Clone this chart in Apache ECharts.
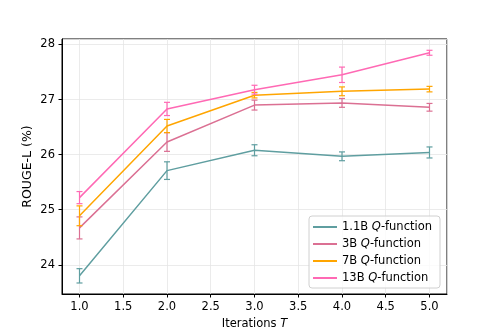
<!DOCTYPE html>
<html>
<head>
<meta charset="UTF-8">
<script src="https://cdn.jsdelivr.net/npm/echarts@6/dist/echarts.min.js"></script>
<style>
  html, body { margin: 0; padding: 0; background: #fff; }
  #chart { width: 496px; height: 331px; }
</style>
</head>
<body>
<div id="chart"></div>
<script>
var iterations = [1, 2, 3, 4, 5];
var modelNames = ['1.1B', '3B', '7B', '13B'];
var colors = ['#5F9EA0', '#DB7093', '#FFA500', '#FF69B4'];

var rouge11b = [23.80, 25.71, 26.08, 25.97, 26.04];
var err11b   = [0.13, 0.16, 0.10, 0.08, 0.10];
var rouge3b  = [24.67, 26.23, 26.90, 26.94, 26.86];
var err3b    = [0.20, 0.17, 0.09, 0.08, 0.07];
var rouge7b  = [24.89, 26.52, 27.08, 27.15, 27.19];
var err7b    = [0.18, 0.12, 0.05, 0.08, 0.05];
var rouge13b = [25.22, 26.83, 27.18, 27.45, 27.85];
var err13b   = [0.11, 0.12, 0.08, 0.14, 0.045];

var allValues = [rouge11b, rouge3b, rouge7b, rouge13b];
var allErrors = [err11b, err3b, err7b, err13b];

var chart = echarts.init(document.getElementById('chart'));
var font = 'DejaVu Sans';

function errorBars(api) {
    var x = api.value(0), y = api.value(1), e = api.value(2);
    var top = api.coord([x, y + e]);
    var bot = api.coord([x, y - e]);
    var style = { stroke: api.visual('color'), lineWidth: 1.2 };
    var cap = 3;
    return {
        type: 'group',
        children: [
            { type: 'line', shape: { x1: top[0], y1: top[1], x2: bot[0], y2: bot[1] }, style: style },
            { type: 'line', shape: { x1: top[0] - cap, y1: top[1], x2: top[0] + cap, y2: top[1] }, style: style },
            { type: 'line', shape: { x1: bot[0] - cap, y1: bot[1], x2: bot[0] + cap, y2: bot[1] }, style: style }
        ]
    };
}

var series = [];
modelNames.forEach(function (name, i) {
    var label = name + ' Q-function';
    series.push({
        name: label,
        type: 'line',
        data: iterations.map(function (t, k) { return [t, allValues[i][k]]; }),
        symbol: 'none',
        lineStyle: { color: colors[i], width: 1.5 },
        itemStyle: { color: colors[i] },
        z: 2 + i * 2
    });
    series.push({
        name: label,
        type: 'custom',
        renderItem: function (params, api) { return errorBars(api); },
        data: iterations.map(function (t, k) { return [t, allValues[i][k], allErrors[i][k]]; }),
        itemStyle: { color: colors[i] },
        z: 3 + i * 2
    });
});

var option = {
    animation: false,
    grid: {
        left: 62, right: 49, top: 39, bottom: 37,
        outerBoundsMode: 'none',
        show: true, borderColor: '#000', borderWidth: 1
    },
    xAxis: {
        type: 'value',
        min: 0.8, max: 5.2,
        splitNumber: 9,
        name: '{n|Iterations }{i|T}',
        nameLocation: 'middle',
        nameGap: 24,
        nameMoveOverlap: false,
        nameTextStyle: {
            rich: {
                n: { fontFamily: font, fontSize: 11.5, color: '#000' },
                i: { fontFamily: font, fontSize: 11.5, color: '#000', fontStyle: 'italic' }
            }
        },
        axisLine: { show: true, lineStyle: { color: '#000' } },
        axisTick: { show: true, inside: false, length: 3.5, lineStyle: { color: '#000' } },
        axisLabel: {
            color: '#000', fontFamily: font, fontSize: 11.5, margin: 7,
            showMinLabel: false, showMaxLabel: false,
            formatter: function (v) { return v.toFixed(1); }
        },
        splitLine: { show: true, lineStyle: { color: '#e6e6e6', width: 0.8 } }
    },
    yAxis: {
        type: 'value',
        min: 23.47, max: 28.1,
        splitNumber: 5,
        name: 'ROUGE-L (%)',
        nameLocation: 'middle',
        nameGap: 28,
        nameMoveOverlap: false,
        nameTextStyle: { color: '#000', fontFamily: font, fontSize: 12.5 },
        axisLine: { show: true, lineStyle: { color: '#000' } },
        axisTick: { show: true, inside: false, length: 3.5, lineStyle: { color: '#000' } },
        axisLabel: {
            color: '#000', fontFamily: font, fontSize: 11.5, margin: 7,
            showMinLabel: false, showMaxLabel: false
        },
        splitLine: { show: true, lineStyle: { color: '#e6e6e6', width: 0.8 } }
    },
    legend: {
        data: modelNames.map(function (n) { return n + ' Q-function'; }),
        orient: 'vertical',
        left: 309, top: 216,
        padding: [5, 8, 4, 4],
        itemGap: 5,
        itemWidth: 24, itemHeight: 2,
        icon: 'rect',
        backgroundColor: 'rgba(255,255,255,0.8)',
        borderColor: '#d0d0d0', borderWidth: 1, borderRadius: 3,
        formatter: function (name) {
            var size = name.split(' ')[0];
            return '{n|' + size + ' }{q|Q}{n|-function}';
        },
        textStyle: {
            rich: {
                n: { fontFamily: font, fontSize: 11.5, color: '#000', lineHeight: 14 },
                q: { fontFamily: font, fontSize: 11.5, color: '#000', fontStyle: 'italic', lineHeight: 14 }
            }
        }
    },
    series: series
};

chart.setOption(option);
</script>
</body>
</html>
